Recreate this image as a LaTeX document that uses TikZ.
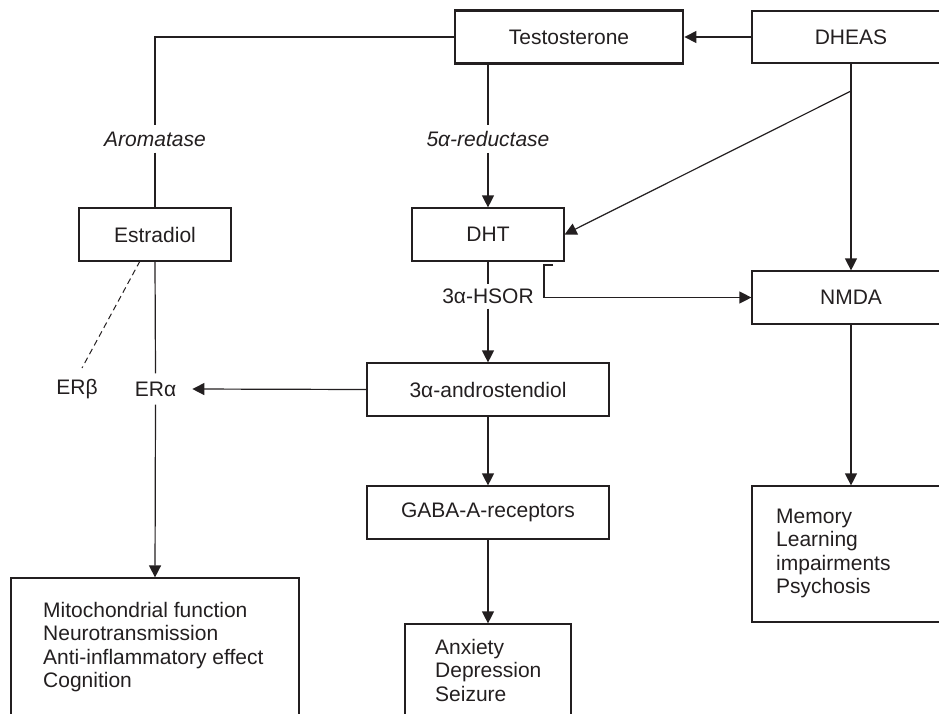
\documentclass[tikz,border=0pt]{standalone}
\usepackage{fontspec}
\setmainfont{Liberation Sans}
\usetikzlibrary{arrows.meta}
\definecolor{ink}{RGB}{35,31,32}
\begin{document}
\begin{tikzpicture}[x=1pt,y=-1pt,
  font=\fontsize{21}{23.5}\selectfont,
  every node/.style={text=ink},
  box/.style={draw=ink, line width=1.2pt, inner sep=0pt, minimum height=53pt},
  lbl/.style={inner xsep=2pt, inner ysep=6pt},
  conn/.style={draw=ink, line width=1.2pt},
  arr/.style={conn, -{Triangle[length=12pt,width=12pt]}}
]
\useasboundingbox (0,0) rectangle (939,713);
\clip (0,0) rectangle (939,713);

% boxes
\node[box, line width=2.8pt, minimum width=228pt] (T) at (569,37) {Testosterone};
\node[box, minimum width=198pt, minimum height=52pt] (D) at (851,37) {DHEAS};
\node[box, minimum width=152pt] (E) at (155,234.5) {Estradiol};
\node[box, minimum width=152pt] (H) at (488,234.5) {DHT};
\node[box, minimum width=198pt] (N) at (851,297.5) {NMDA};
\node[box, minimum width=242pt] (A) at (488,389.5) {3α-androstendiol};
\node[box, minimum width=242pt] (G) at (488,512.5) {GABA-A-receptors};
\node[box, minimum width=288pt, minimum height=182pt] (M) at (155,669) {};
\node[box, minimum width=166pt, minimum height=136pt] (X) at (488,692) {};
\node[box, minimum width=198pt, minimum height=136pt] (Mem) at (851,554) {};

% texts inside result boxes
\node[anchor=west, align=left, inner sep=0pt] (Mt) at (43,647) {Mitochondrial function\\Neurotransmission\\Anti-inflammatory effect\\Cognition};
\node[anchor=west, align=left, inner sep=0pt] (Xt) at (435,670) {Anxiety\\Depression\\Seizure};
\node[anchor=west, align=left, inner sep=0pt] (Memt) at (776,553.5) {Memory\\Learning\\impairments\\Psychosis};

% labels on connectors
\node[lbl] (Ar) at (155,139) {\itshape Aromatase};
\node[lbl] (Rd) at (488,139) {\itshape 5α-reductase};
\node[lbl, inner ysep=4.5pt] (Hs) at (488,296.5) {3α-HSOR};
\node[inner xsep=16pt, inner ysep=8pt] (ERa) at (155.5,389) {ERα};
\node[inner sep=0pt] (ERb) at (77,389) {ERβ};

% helper coordinates
\coordinate (dj) at (851,91);
\coordinate (bk) at (553,265);
\coordinate (erbt) at (82,368);
\coordinate (es) at (140,261);

% connectors
\draw[arr] (D.west) -- (T.east);
\draw[conn] (T.west) -| (Ar.north);
\draw[conn] (Ar.south) -- (E.north);
\draw[conn] (T.south -| Rd.north) -- (Rd.north);
\draw[arr] (Rd.south) -- (H.north);
\draw[arr] (D.south) -- (N.north);
\draw[arr] (dj) -- (H.east);
\draw[conn] (H.south) -- (Hs.north);
\draw[arr] (Hs.south) -- (A.north);
\draw[arr] (bk) -- ++(-9,0) |- (N.west);
\draw[arr] (A.south) -- (G.north);
\draw[arr] (G.south) -- (X.north);
\draw[arr] (N.south) -- (Mem.north);
\draw[arr] (A.west) -- (ERa.east);
\draw[conn] (E.south) -- (ERa.north);
\draw[arr] (ERa.south) -- (M.north);
\draw[conn, dashed, line width=1pt, dash pattern=on 6pt off 4pt] (es) -- (erbt);
\end{tikzpicture}
\end{document}
